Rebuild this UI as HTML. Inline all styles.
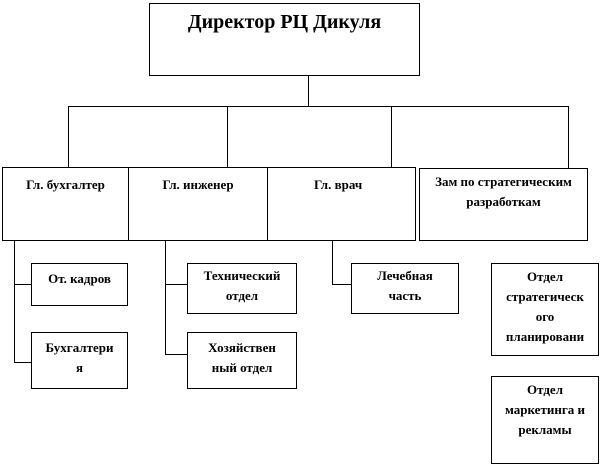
<!DOCTYPE html>
<html><head><meta charset="utf-8"><style>
body{margin:0;width:602px;height:467px;background:#fff;position:relative;overflow:hidden;font-family:"Liberation Serif",serif;}
.b{position:absolute;border:1px solid #000;box-sizing:border-box;text-align:center;font-weight:bold;font-size:13px;line-height:20px;padding-top:5px;background:#fff;white-space:nowrap}
.l{position:absolute;background:#000}
</style></head><body>
<div class="l" style="left:308px;top:75px;width:1px;height:31px"></div>
<div class="l" style="left:68px;top:106px;width:501px;height:1px"></div>
<div class="l" style="left:68px;top:106px;width:1px;height:61px"></div>
<div class="l" style="left:227px;top:106px;width:1px;height:61px"></div>
<div class="l" style="left:391px;top:106px;width:1px;height:61px"></div>
<div class="l" style="left:568px;top:106px;width:1px;height:62px"></div>
<div class="l" style="left:14px;top:240px;width:1px;height:123px"></div>
<div class="l" style="left:14px;top:284px;width:17px;height:1px"></div>
<div class="l" style="left:14px;top:362px;width:17px;height:1px"></div>
<div class="l" style="left:165px;top:240px;width:1px;height:115px"></div>
<div class="l" style="left:165px;top:284px;width:22px;height:1px"></div>
<div class="l" style="left:165px;top:354px;width:22px;height:1px"></div>
<div class="l" style="left:332px;top:240px;width:1px;height:45px"></div>
<div class="l" style="left:332px;top:284px;width:19px;height:1px"></div>

<div class="b" style="left:149px;top:3px;width:271px;height:73px;font-size:20px;line-height:24px;padding-top:6px">Директор РЦ Дикуля</div>
<div class="b" style="left:2px;top:167px;width:127px;height:74px;padding-top:7px">Гл. бухгалтер</div>
<div class="b" style="left:267px;top:167px;width:149px;height:74px;text-align:left;padding-left:46px;padding-top:7px">Гл. врач</div>
<div class="b" style="left:128px;top:167px;width:140px;height:74px;padding-top:7px">Гл. инженер</div>
<div class="b" style="left:419px;top:168px;width:169px;height:73px;padding-top:3px">Зам по стратегическим<br>разработкам</div>
<div class="b" style="left:31px;top:263px;width:97px;height:43px;">От. кадров</div>
<div class="b" style="left:31px;top:332px;width:97px;height:57px;">Бухгалтери<br>я</div>
<div class="b" style="left:187px;top:263px;width:110px;height:51px;padding-top:2px">Технический<br>отдел</div>
<div class="b" style="left:187px;top:332px;width:110px;height:57px;">Хозяйствен<br>ный отдел</div>
<div class="b" style="left:351px;top:263px;width:108px;height:51px;padding-top:2px">Лечебная<br>часть</div>
<div class="b" style="left:491px;top:263px;width:108px;height:93px;padding-top:3px">Отдел<br>стратегическ<br>ого<br>планировани</div>
<div class="b" style="left:491px;top:376px;width:108px;height:88px;padding-top:3px">Отдел<br>маркетинга и<br>рекламы</div>
</body></html>
